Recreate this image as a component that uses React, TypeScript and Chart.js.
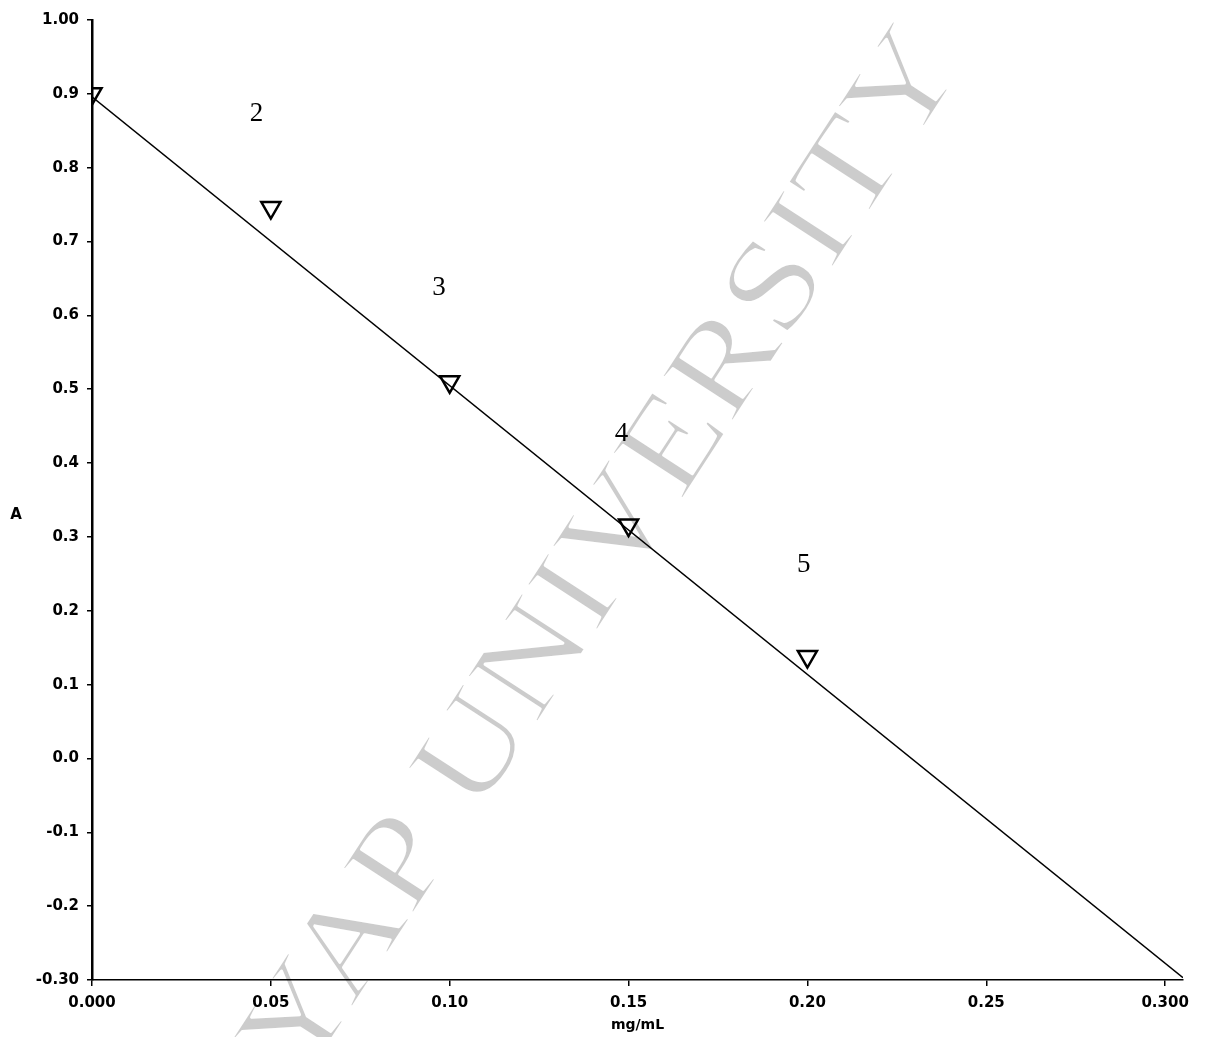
import React, { useEffect, useRef } from 'react';
import { Chart, registerables } from 'chart.js';

Chart.register(...registerables);

// ---- data ----
const concentrations = [0.0, 0.05, 0.1, 0.15, 0.2];
const absorbance = [0.9, 0.746, 0.51, 0.316, 0.138];
const fitX = [0.0, 0.305];
const fitY = [0.896, -0.297];
const xTickValues = [0, 0.05, 0.1, 0.15, 0.2, 0.25, 0.3];
const xTickLabels = ['0.000', '0.05', '0.10', '0.15', '0.20', '0.25', '0.300'];
const yTickValues = [-0.3, -0.2, -0.1, 0, 0.1, 0.2, 0.3, 0.4, 0.5, 0.6, 0.7, 0.8, 0.9, 1.0];
const yTickLabels = ['-0.30', '-0.2', '-0.1', '0.0', '0.1', '0.2', '0.3', '0.4', '0.5', '0.6', '0.7', '0.8', '0.9', '1.00'];
const noteX = [0.046, 0.097, 0.148, 0.199];
const noteY = [0.873, 0.637, 0.44, 0.262];
const noteText = ['2', '3', '4', '5'];
const yTitle = 'A';
const xTitle = 'mg/mL';
const watermarkText = 'YAP UNIVERSITY';

const labelFor = (vals: number[], labels: string[], v: number) => {
  const i = vals.findIndex((t) => Math.abs(t - v) < 1e-9);
  return i >= 0 ? labels[i] : '';
};

const watermarkPlugin = {
  id: 'watermark',
  beforeDraw(chart: any) {
    const { ctx, width, height } = chart;
    ctx.save();
    ctx.fillStyle = '#ffffff';
    ctx.fillRect(0, 0, width, height);
    ctx.translate(width * 0.495, height * 0.536);
    ctx.rotate((-57 * Math.PI) / 180);
    ctx.scale(1.07, 0.92);
    ctx.font = '140px "Liberation Serif", "DejaVu Serif", serif';
    ctx.textAlign = 'center';
    ctx.textBaseline = 'middle';
    ctx.fillStyle = '#cccccc';
    ctx.fillText(watermarkText, 0, 0);
    // thin the strokes slightly, the original watermark is a light face
    ctx.strokeStyle = '#ffffff';
    ctx.lineWidth = 3;
    ctx.lineJoin = 'round';
    ctx.strokeText(watermarkText, 0, 0);
    ctx.restore();
  },
};

const notesPlugin = {
  id: 'notes',
  afterDraw(chart: any) {
    const { ctx } = chart;
    const xs = chart.scales.x;
    const ys = chart.scales.y;
    ctx.save();
    ctx.fillStyle = '#000';
    ctx.textAlign = 'center';
    ctx.textBaseline = 'middle';
    ctx.font = '27px "Liberation Serif", "DejaVu Serif", serif';
    noteText.forEach((t, i) => {
      ctx.fillText(t, xs.getPixelForValue(noteX[i]), ys.getPixelForValue(noteY[i]));
    });
    ctx.font = 'bold 15px "DejaVu Sans", sans-serif';
    ctx.fillText(yTitle, 16, ys.getPixelForValue(0.33));
    ctx.restore();
  },
};

export default function App() {
  const ref = useRef<HTMLCanvasElement>(null);
  useEffect(() => {
    if (!ref.current) return;
    const tickFont = { family: '"DejaVu Sans", sans-serif', size: 15, weight: 'bold' as const };
    const chart = new Chart(ref.current, {
      type: 'scatter',
      data: {
        datasets: [
          {
            type: 'scatter',
            label: 'samples',
            data: concentrations.map((x, i) => ({ x, y: absorbance[i] })),
            pointStyle: 'triangle',
            rotation: 180,
            radius: 11,
            pointRadius: 11,
            borderColor: '#000',
            backgroundColor: 'rgba(0,0,0,0)',
            borderWidth: 2.5,
          } as any,
          {
            type: 'line',
            label: 'fit',
            data: fitX.map((x, i) => ({ x, y: fitY[i] })),
            borderColor: '#000',
            borderWidth: 1.5,
            pointRadius: 0,
            fill: false,
          } as any,
        ],
      },
      options: {
        animation: false,
        responsive: false,
        devicePixelRatio: 1,
        layout: { padding: { top: 20, right: 40, left: 0, bottom: 0 } },
        plugins: { legend: { display: false }, tooltip: { enabled: false } },
        scales: {
          x: {
            type: 'linear',
            min: 0,
            max: 0.305,
            afterBuildTicks: (s: any) => {
              s.ticks = xTickValues.map((v) => ({ value: v }));
            },
            afterFit: (s: any) => {
              s.height = 57;
            },
            ticks: {
              autoSkip: false,
              maxRotation: 0,
              color: '#000',
              padding: 8,
              font: tickFont,
              callback: (v: any) => labelFor(xTickValues, xTickLabels, Number(v)),
            },
            grid: { display: true, drawOnChartArea: false, drawTicks: true, tickLength: 6, color: '#000', lineWidth: 1.5 },
            border: { display: true, color: '#000', width: 1.5 },
            title: {
              display: true,
              text: xTitle,
              color: '#000',
              padding: { top: 0, bottom: 3 },
              font: { family: '"DejaVu Sans", sans-serif', size: 14, weight: 'bold' },
            },
          },
          y: {
            type: 'linear',
            min: -0.3,
            max: 1.0,
            afterBuildTicks: (s: any) => {
              s.ticks = yTickValues.map((v) => ({ value: v }));
            },
            afterFit: (s: any) => {
              s.width = 92;
            },
            ticks: {
              autoSkip: false,
              color: '#000',
              padding: 8,
              font: tickFont,
              callback: (v: any) => labelFor(yTickValues, yTickLabels, Number(v)),
            },
            grid: { display: true, drawOnChartArea: false, drawTicks: true, tickLength: 5, color: '#000', lineWidth: 1.5 },
            border: { display: true, color: '#000', width: 2.5 },
          },
        },
      },
      plugins: [watermarkPlugin, notesPlugin],
    } as any);
    return () => chart.destroy();
  }, []);

  return (
    <div style={{ position: 'absolute', left: 0, top: 0, width: 1223, height: 1037, background: '#fff' }}>
      <canvas ref={ref} width={1223} height={1037} style={{ display: 'block' }} />
    </div>
  );
}
